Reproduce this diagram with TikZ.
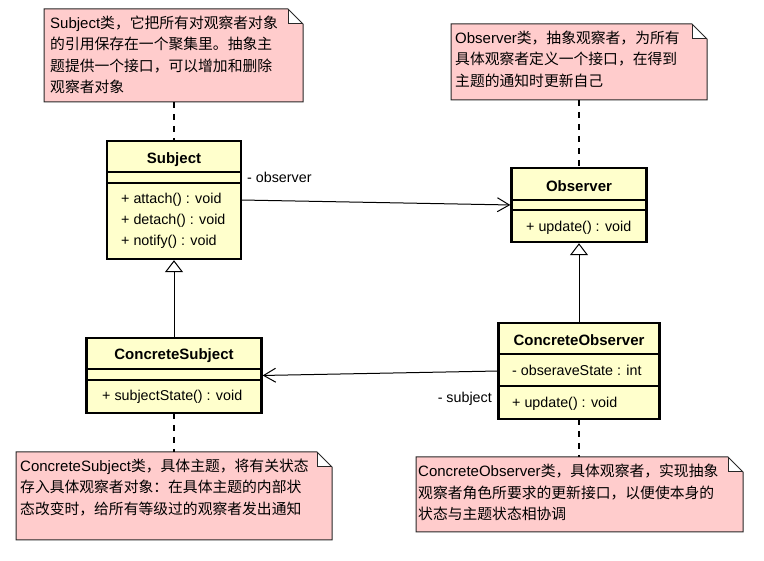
\documentclass[tikz,border=0pt]{standalone}
\usepackage{fontspec}
\setmainfont{Liberation Sans}
\newfontfamily\cjkfont{Noto Sans CJK SC}
\usetikzlibrary{arrows.meta}
\definecolor{notepink}{RGB}{255,204,204}
\definecolor{classyellow}{RGB}{255,255,204}
\definecolor{noteedge}{RGB}{40,40,40}
\newcommand{\latn}[1]{{\rmfamily\fontsize{15}{21.5}\selectfont #1}}
\newcommand{\drawnote}[1]{%
  \fill[notepink] (#1.north west) -- ([xshift=-15pt]#1.north east) -- ([yshift=-15pt]#1.north east) -- (#1.south east) -- (#1.south west) -- cycle;
  \fill[white] ([xshift=-15pt]#1.north east) -- ([xshift=-15pt,yshift=-15pt]#1.north east) -- ([yshift=-15pt]#1.north east) -- cycle;
  \draw[noteline] (#1.north west) -- ([xshift=-15pt]#1.north east) -- ([yshift=-15pt]#1.north east) -- (#1.south east) -- (#1.south west) -- cycle;
  \draw[noteline] ([xshift=-15pt]#1.north east) -- ([xshift=-15pt,yshift=-15pt]#1.north east) -- ([yshift=-15pt]#1.north east);
}
\begin{document}
\begin{tikzpicture}[x=1pt,y=-1pt,
  noteline/.style={draw=noteedge, line width=1pt},
  notebox/.style={inner sep=0pt, outer sep=0pt},
  notetext/.style={anchor=north west, inner sep=0pt, align=left, font=\cjkfont\fontsize{14.8}{21.5}\selectfont},
  classbox/.style={draw=black, line width=2.8pt, fill=classyellow, inner sep=0pt, outer sep=0pt},
  classtitle/.style={font=\bfseries\fontsize{15}{17}\selectfont, inner sep=0pt, text height=10.5pt, text depth=3pt},
  member/.style={anchor=west, font=\fontsize{14.3}{17}\selectfont, inner sep=0pt, text height=10.5pt, text depth=3pt},
  compsep/.style={line width=1.3pt},
  assoc/.style={line width=1pt, -{Straight Barb[length=12pt,width=14pt]}, shorten >=1.2pt},
  inherit/.style={line width=1pt, -{Triangle[open,length=12pt,width=18pt]}, shorten >=1.2pt},
  notelink/.style={line width=1.2pt, dash pattern=on 6pt off 6pt},
  rolelabel/.style={font=\fontsize{14.3}{17}\selectfont, inner sep=0pt, text height=10.5pt, text depth=3pt},
]
\fill[white] (0,0) rectangle (764,561);
\useasboundingbox (0,0) rectangle (764,561);

% ---------- notes ----------
\node[notebox, minimum width=259pt, minimum height=93pt] (n1) at (173.5,55.5) {};
\drawnote{n1}
\node[notetext] (n1t) at (50,15.5) {\latn{Subject}类，它把所有对观察者对象\\的引用保存在一个聚集里。抽象主\\题提供一个接口，可以增加和删除\\观察者对象};

\node[notebox, minimum width=256pt, minimum height=76pt] (n2) at (579,62) {};
\drawnote{n2}
\node[notetext] (n2t) at (455,30.5) {\latn{Observer}类，抽象观察者，为所有\\具体观察者定义一个接口，在得到\\主题的通知时更新自己};

\node[notebox, minimum width=316pt, minimum height=88pt] (n3) at (174,496) {};
\drawnote{n3}
\node[notetext] (n3t) at (20,458.5) {\latn{ConcreteSubject}类，具体主题，将有关状态\\存入具体观察者对象：在具体主题的内部状\\态改变时，给所有等级过的观察者发出通知};

\node[notebox, minimum width=327pt, minimum height=75pt] (n4) at (579.5,494.5) {};
\drawnote{n4}
\node[notetext] (n4t) at (418,464) {\latn{ConcreteObserver}类，具体观察者，实现抽象\\观察者角色所要求的更新接口，以便使本身的\\状态与主题状态相协调};

% ---------- classes ----------
\node[classbox, minimum width=134pt, minimum height=118pt] (S) at (174,200) {};
\node[classbox, minimum width=135pt, minimum height=74pt] (O) at (579,205) {};
\node[classbox, minimum width=175pt, minimum height=75pt] (CS) at (174,375.5) {};
\node[classbox, minimum width=161pt, minimum height=96pt] (CO) at (579,371) {};

% compartments
\draw[compsep] (S.west |- 0,172) -- (S.east |- 0,172);
\draw[compsep] (S.west |- 0,183) -- (S.east |- 0,183);
\draw[compsep] (O.west |- 0,200) -- (O.east |- 0,200);
\draw[compsep] (O.west |- 0,210) -- (O.east |- 0,210);
\draw[compsep] (CS.west |- 0,369) -- (CS.east |- 0,369);
\draw[compsep] (CS.west |- 0,380) -- (CS.east |- 0,380);
\draw[compsep] (CO.west |- 0,354) -- (CO.east |- 0,354);
\draw[compsep] (CO.west |- 0,386) -- (CO.east |- 0,386);

% class texts
\node[classtitle] (St) at (174,160) {Subject};
\node[member] (Sm1) at (121,200) {+ attach() : void};
\node[member] (Sm2) at (121,221) {+ detach() : void};
\node[member] (Sm3) at (121,242) {+ notify() : void};

\node[classtitle] (Ot) at (579,188) {Observer};
\node[member] (Om1) at (526,228) {+ update() : void};

\node[classtitle] (CSt) at (174,356) {ConcreteSubject};
\node[member] (CSm1) at (102,397) {+ subjectState() : void};

\node[classtitle] (COt) at (579,342) {ConcreteObserver};
\node[member] (COa1) at (512,372) {- obseraveState : int};
\node[member] (COm1) at (512,404) {+ update() : void};

% ---------- connectors ----------
\draw[notelink] (n1.south -| S.north) -- (S.north);
\draw[notelink] (n2.south -| O.north) -- (O.north);
\draw[notelink] (CS.south) -- (CS.south |- n3.north);
\draw[notelink] (CO.south) -- (CO.south |- n4.north);

\draw[assoc] (S.east) -- (O.west);
\draw[assoc] (CO.west) -- (CS.east);
\draw[inherit] (CS.north) -- (S.south);
\draw[inherit] (CO.north) -- (O.south);

\node[rolelabel, anchor=west] (lobs) at (247,179) {- observer};
\node[rolelabel, anchor=east] (lsub) at (492,399) {- subject};
\end{tikzpicture}
\end{document}
